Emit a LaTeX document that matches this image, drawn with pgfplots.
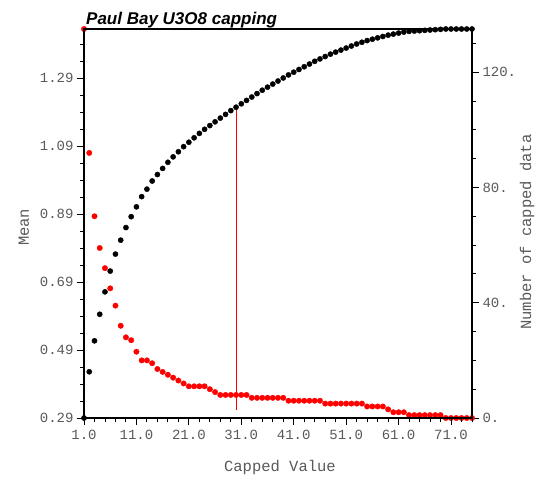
\documentclass[border=0pt]{standalone}
\usepackage{pgfplots}
\pgfplotsset{compat=1.18}
\usepackage{fontspec}
\setmainfont{Liberation Sans}
\setmonofont{Liberation Mono}

\pgfplotstableread{
x mean
1 0.290
2 0.426
3 0.517
4 0.595
5 0.661
6 0.722
7 0.772
8 0.813
9 0.850
10 0.882
11 0.911
12 0.941
13 0.963
14 0.987
15 1.006
16 1.024
17 1.042
18 1.058
19 1.073
20 1.088
21 1.101
22 1.114
23 1.127
24 1.139
25 1.150
26 1.161
27 1.172
28 1.183
29 1.194
30 1.204
31 1.214
32 1.224
33 1.234
34 1.244
35 1.254
36 1.263
37 1.272
38 1.281
39 1.290
40 1.299
41 1.307
42 1.315
43 1.323
44 1.331
45 1.339
46 1.346
47 1.353
48 1.360
49 1.366
50 1.372
51 1.378
52 1.384
53 1.390
54 1.395
55 1.400
56 1.404
57 1.408
58 1.412
59 1.416
60 1.419
61 1.422
62 1.425
63 1.427
64 1.428
65 1.429
66 1.430
67 1.431
68 1.432
69 1.433
70 1.434
71 1.434
72 1.434
73 1.434
74 1.434
75 1.434
}\meantable

\pgfplotstableread{
x count
1 135
2 92
3 70
4 59
5 52
6 45
7 39
8 32
9 28
10 27
11 23
12 20
13 20
14 19
15 17
16 16
17 15
18 14
19 13
20 12
21 11
22 11
23 11
24 11
25 10
26 9
27 8
28 8
29 8
30 8
31 8
32 8
33 7
34 7
35 7
36 7
37 7
38 7
39 7
40 6
41 6
42 6
43 6
44 6
45 6
46 6
47 5
48 5
49 5
50 5
51 5
52 5
53 5
54 5
55 4
56 4
57 4
58 4
59 3
60 2
61 2
62 2
63 1
64 1
65 1
66 1
67 1
68 1
69 1
70 0
71 0
72 0
73 0
74 0
75 0
}\counttable

\pgfplotsset{
  common/.style={
    scale only axis,
    width=388pt, height=389pt,
    at={(84pt,-418pt)}, anchor=south west,
    xmin=1, xmax=75,
    clip=false,
    tick label style={font=\fontsize{14}{14}\selectfont\ttfamily, text=black!65},
    label style={font=\fontsize{15.5}{15.5}\selectfont\ttfamily, text=black!65},
    axis line style={line width=1.4pt},
    xtick align=outside,
    ytick align=outside,
    major tick length=7pt,
    minor tick length=4pt,
    major tick style={draw=black, line width=0.9pt},
    minor tick style={draw=black, line width=0.9pt},
  },
}

\begin{document}
\begin{tikzpicture}
\useasboundingbox (0pt,0pt) rectangle (539pt,-485pt);

% right axis: number of capped data (red)
\begin{axis}[common,
  hide x axis,
  ytick pos=right,
  yticklabel pos=right,
  ymin=0, ymax=135,
  ytick={0,40,80,120},
  yticklabels={0.,40.,80.,120.},
  minor ytick={10,20,30,50,60,70,90,100,110,130},
  ylabel={Number of capped data},
  ylabel style={at={(axis description cs:1.142,0.478)}, anchor=center, rotate=0},
]
\addplot[only marks, mark=*, mark size=2.7pt, color=red, mark options={draw=none, fill=red}] table[x=x, y=count] {\counttable};
\end{axis}

% left axis: mean (black)
\begin{axis}[common,
  xtick pos=left,
  ytick pos=left,
  ymin=0.29, ymax=1.434,
  xtick={1,11,21,31,41,51,61,71},
  xticklabels={1.0,11.0,21.0,31.0,41.0,51.0,61.0,71.0},
  xticklabel style={yshift=-2pt},
  minor xtick={3,5,7,9,13,15,17,19,23,25,27,29,33,35,37,39,43,45,47,49,53,55,57,59,63,65,67,69,73,75},
  ytick={0.29,0.49,0.69,0.89,1.09,1.29},
  yticklabels={0.29,0.49,0.69,0.89,1.09,1.29},
  minor ytick={0.34,0.39,0.44,0.54,0.59,0.64,0.74,0.79,0.84,0.94,0.99,1.04,1.14,1.19,1.24,1.34,1.39},
  xlabel={Capped Value},
  xlabel style={at={(axis description cs:0.505,-0.1285)}, anchor=center},
  ylabel={Mean},
  ylabel style={at={(axis description cs:-0.155,0.49)}, anchor=center},
]
\addplot[red, line width=1pt] coordinates {(30,0.313) (30,1.204)};
\addplot[only marks, mark=*, mark size=2.6pt, color=black, mark options={draw=none, fill=black}] table[x=x, y=mean] {\meantable};
\end{axis}

\node[anchor=base west, font=\fontsize{17}{17}\selectfont\bfseries\itshape, inner sep=0pt] at (86pt,-24pt) {Paul Bay U3O8 capping};
\end{tikzpicture}
\end{document}
